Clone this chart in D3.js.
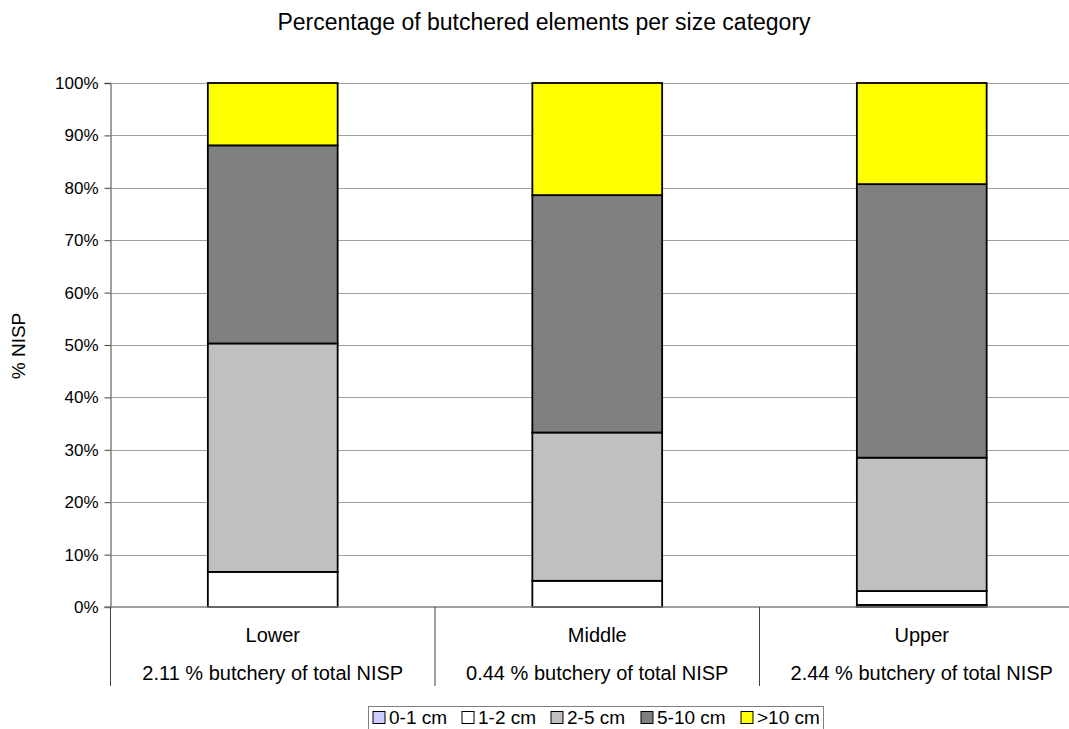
<!DOCTYPE html>
<html>
<head>
<meta charset="utf-8">
<script src="https://cdn.jsdelivr.net/npm/d3@7"></script>
<style>
  html, body { margin: 0; padding: 0; background: #fff; }
  svg { display: block; font-family: "Liberation Sans", Arial, sans-serif; }
</style>
</head>
<body>
<svg id="chart" width="1069" height="729"></svg>
<script>
// Stratigraphic units and the butchery share of total NISP in each
const categories = ["Lower", "Middle", "Upper"];
const subLabels = [
  "2.11 % butchery of total NISP",
  "0.44 % butchery of total NISP",
  "2.44 % butchery of total NISP"
];

// Size classes (stack order bottom to top)
const sizeClasses = ["0-1 cm", "1-2 cm", "2-5 cm", "5-10 cm", ">10 cm"];
const sizeColors = ["#ccccff", "#ffffff", "#c0c0c0", "#808080", "#ffff00"];

// Percentage of butchered elements per size class, one array per class
const size0to1 = [0.0, 0.0, 0.4];
const size1to2 = [6.7, 5.0, 2.65];
const size2to5 = [43.6, 28.3, 25.45];
const size5to10 = [37.8, 45.3, 52.2];
const sizeOver10 = [11.9, 21.4, 19.3];

const yTicks = [0, 10, 20, 30, 40, 50, 60, 70, 80, 90, 100];

const seriesValues = [size0to1, size1to2, size2to5, size5to10, sizeOver10];
const rows = categories.map((c, i) => {
  const r = { category: c };
  sizeClasses.forEach((s, k) => { r[s] = seriesValues[k][i]; });
  return r;
});

const svg = d3.select("#chart");
const margin = { left: 110.5, top: 83, right: 1084, bottom: 607 };

const x = d3.scaleBand()
  .domain(categories)
  .range([margin.left, margin.right])
  .paddingInner(0.6)
  .paddingOuter(0.3);
const xOuter = d3.scaleBand()
  .domain(categories)
  .range([margin.left, margin.right])
  .padding(0);
const y = d3.scaleLinear().domain([0, 100]).range([margin.bottom, margin.top]);

// Title
svg.append("text")
  .attr("x", 544).attr("y", 30)
  .attr("text-anchor", "middle")
  .attr("font-size", 23)
  .text("Percentage of butchered elements per size category");

// Gridlines
svg.append("g")
  .selectAll("line")
  .data(yTicks.filter(t => t > 0))
  .join("line")
  .attr("x1", margin.left).attr("x2", margin.right)
  .attr("y1", d => Math.round(y(d)) + 0.5).attr("y2", d => Math.round(y(d)) + 0.5)
  .attr("stroke", "#a0a0a0").attr("stroke-width", 1);

// Y axis
const yAxis = d3.axisLeft(y)
  .tickValues(yTicks)
  .tickFormat(d => d + "%")
  .tickSize(6)
  .tickPadding(6);
const gy = svg.append("g")
  .attr("transform", `translate(${margin.left},0)`)
  .call(yAxis);
gy.select(".domain").attr("stroke", "#808080").attr("stroke-width", 1.5);
gy.selectAll(".tick line").attr("stroke", "#404040");
gy.selectAll(".tick text")
  .attr("font-size", 17)
  .attr("font-family", "Liberation Sans, Arial, sans-serif")
  .attr("fill", "#000");

// Y axis label
svg.append("text")
  .attr("transform", "translate(25,346) rotate(-90)")
  .attr("text-anchor", "middle")
  .attr("font-size", 19)
  .text("% NISP");

// Stacked bars
const stack = d3.stack().keys(sizeClasses);
const stacked = stack(rows);
const layers = svg.append("g")
  .selectAll("g")
  .data(stacked)
  .join("g")
  .attr("fill", (d, i) => sizeColors[i]);
layers.selectAll("rect")
  .data(d => d.filter(p => p[1] - p[0] > 0))
  .join("rect")
  .attr("x", d => x(d.data.category))
  .attr("width", x.bandwidth())
  .attr("y", d => y(d[1]))
  .attr("height", d => y(d[0]) - y(d[1]))
  .attr("stroke", "#000")
  .attr("stroke-width", 1.8);

// Category axis: baseline, separators and two-line labels
svg.append("line")
  .attr("x1", margin.left - 6).attr("x2", margin.right)
  .attr("y1", margin.bottom).attr("y2", margin.bottom)
  .attr("stroke", "#808080").attr("stroke-width", 1.5);

const seps = categories.map(c => xOuter(c)).concat([margin.right]);
svg.append("g")
  .selectAll("line")
  .data(seps)
  .join("line")
  .attr("x1", d => d).attr("x2", d => d)
  .attr("y1", margin.bottom).attr("y2", 686)
  .attr("stroke", "#404040").attr("stroke-width", 1);

const catG = svg.append("g")
  .selectAll("g")
  .data(categories)
  .join("g")
  .attr("transform", c => `translate(${xOuter(c) + xOuter.bandwidth() / 2},0)`);
catG.append("text")
  .attr("y", 642)
  .attr("text-anchor", "middle")
  .attr("font-size", 20)
  .text(c => c);
catG.append("text")
  .attr("y", 680)
  .attr("text-anchor", "middle")
  .attr("font-size", 20)
  .text((c, i) => subLabels[i]);

// Legend: items laid out left to right from their measured text widths
const legendBox = { x: 368.5, y: 706.5, w: 455, h: 30 };
const legend = svg.append("g");
legend.append("rect")
  .attr("x", legendBox.x).attr("y", legendBox.y)
  .attr("width", legendBox.w).attr("height", legendBox.h)
  .attr("fill", "#fff").attr("stroke", "#808080").attr("stroke-width", 1);
const items = legend.selectAll("g.item")
  .data(sizeClasses)
  .join("g")
  .attr("class", "item");
items.append("rect")
  .attr("width", 12).attr("height", 12)
  .attr("y", 711.5)
  .attr("fill", (d, i) => sizeColors[i])
  .attr("stroke", "#000").attr("stroke-width", 1);
items.append("text")
  .attr("x", 16).attr("y", 724)
  .attr("font-size", 19)
  .text(d => d);
const widths = [];
items.each(function () { widths.push(16 + this.querySelector("text").getComputedTextLength()); });
const pad = 4;
const gap = (legendBox.w - 2 * pad - d3.sum(widths)) / (widths.length - 1);
let cx = legendBox.x + pad;
items.each(function (d, i) {
  d3.select(this).attr("transform", `translate(${Math.round(cx)},0)`);
  cx += widths[i] + gap;
});
</script>
</body>
</html>
